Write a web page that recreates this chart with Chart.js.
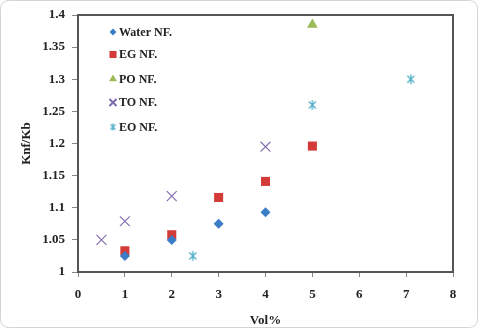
<!DOCTYPE html>
<html>
<head>
<meta charset="utf-8">
<script src="https://cdn.jsdelivr.net/npm/chart.js@4.4.1/dist/chart.umd.min.js"></script>
<style>
  html, body { margin: 0; padding: 0; background: #ffffff; }
  #wrap { width: 478px; height: 328px; position: relative; }
</style>
</head>
<body>
<div id="wrap"><canvas id="c" width="478" height="328"></canvas></div>
<script>
// ---- data ----
const seriesNames = ["Water NF.", "EG NF.", "PO NF.", "TO NF.", "EO NF."];
const waterX = [1, 2, 3, 4];
const waterY = [1.025, 1.05, 1.075, 1.093];
const egX = [1, 2, 3, 4, 5];
const egY = [1.033, 1.058, 1.116, 1.141, 1.196];
const poX = [5];
const poY = [1.385];
const toX = [0.5, 1, 2, 4];
const toY = [1.05, 1.079, 1.118, 1.195];
const eoX = [2.45, 5, 7.1];
const eoY = [1.025, 1.26, 1.3];
const xTicks = [0, 1, 2, 3, 4, 5, 6, 7, 8];
const yTicks = [1, 1.05, 1.1, 1.15, 1.2, 1.25, 1.3, 1.35, 1.4];

function pts(xs, ys) { return xs.map((x, i) => ({ x: x, y: ys[i] })); }

// custom Excel-like star marker (X plus vertical bar)
function makeStar(size, color) {
  const c = document.createElement('canvas');
  c.width = size; c.height = size;
  const g = c.getContext('2d');
  g.strokeStyle = color; g.lineWidth = 1.2;
  const m = size / 2, r = size / 2 - 1;
  const d = r * Math.SQRT1_2;
  g.beginPath();
  g.moveTo(m - d, m - d); g.lineTo(m + d, m + d);
  g.moveTo(m + d, m - d); g.lineTo(m - d, m + d);
  g.moveTo(m, m - r); g.lineTo(m, m + r);
  g.stroke();
  return c;
}
const starBig = makeStar(12, '#4BACC6');
const starSmall = makeStar(9, '#4BACC6');

const colors = ['#3A7DC6', '#D23B37', '#9BBB59', '#7E6AAE', '#4BACC6'];
const styles = ['rectRot', 'rect', 'triangle', 'crossRot', starBig];
const radii = [5, 6.4, 6.2, 7, 6];
const legendStyles = ['rectRot', 'rect', 'triangle', 'crossRot', starSmall];
const legendRadii = [3.4, 5, 4.6, 5, 4.5];

const allData = [pts(waterX, waterY), pts(egX, egY), pts(poX, poY), pts(toX, toY), pts(eoX, eoY)];

const datasets = allData.map((d, i) => ({
  label: seriesNames[i],
  data: d,
  pointStyle: styles[i],
  pointRadius: radii[i],
  pointHoverRadius: radii[i],
  backgroundColor: colors[i],
  borderColor: colors[i],
  borderWidth: (i === 3) ? 1.1 : 0,
  showLine: false
}));

const serif = "'Liberation Serif', 'Times New Roman', serif";

const framePlugin = {
  id: 'frame',
  beforeDraw(chart) {
    const ctx = chart.ctx;
    ctx.save();
    ctx.fillStyle = '#ffffff';
    ctx.fillRect(0, 0, chart.width, chart.height);
    // light outer border
    ctx.strokeStyle = '#d4d4d4';
    ctx.lineWidth = 1;
    ctx.beginPath();
    if (ctx.roundRect) ctx.roundRect(0.5, 0.5, chart.width - 1, chart.height - 1, 8);
    else ctx.rect(0.5, 0.5, chart.width - 1, chart.height - 1);
    ctx.stroke();
    ctx.restore();
  },
  afterDraw(chart) {
    const a = chart.chartArea, ctx = chart.ctx;
    ctx.save();
    ctx.strokeStyle = '#555555';
    ctx.lineWidth = 2;
    ctx.strokeRect(a.left, a.top, a.right - a.left, a.bottom - a.top);
    // legend inside plot
    ctx.font = 'bold 12px ' + serif;
    ctx.textBaseline = 'middle';
    ctx.textAlign = 'left';
    const rowsY = [32, 54.5, 79, 102.5, 127];
    const mx = 113, tx = 119;
    for (let i = 0; i < seriesNames.length; i++) {
      ctx.fillStyle = colors[i];
      ctx.strokeStyle = colors[i];
      Chart.helpers.drawPoint(ctx, {
        pointStyle: legendStyles[i],
        radius: legendRadii[i],
        rotation: 0,
        borderWidth: (i === 3) ? 1 : 0
      }, mx, rowsY[i]);
      ctx.fillStyle = '#222222';
      ctx.fillText(seriesNames[i], tx, rowsY[i] + 0.5);
    }
    ctx.restore();
  }
};

new Chart(document.getElementById('c'), {
  type: 'scatter',
  data: { datasets: datasets },
  options: {
    responsive: false,
    animation: false,
    devicePixelRatio: 1,
    layout: { padding: { top: 15, right: 25, left: 0, bottom: 0 } },
    plugins: { legend: { display: false }, tooltip: { enabled: false } },
    scales: {
      x: {
        type: 'linear', min: 0, max: 8,
        afterBuildTicks(s) { s.ticks = xTicks.map(v => ({ value: v })); },
        afterFit(s) { s.height = 56; },
        ticks: {
          color: '#222', padding: 10,
          font: { family: serif, size: 13, weight: 'bold' },
          callback: v => String(v)
        },
        grid: { display: true, drawOnChartArea: false, drawTicks: true, tickLength: 5, color: '#888888' },
        border: { display: true, color: '#555555', width: 2 },
        title: { display: true, text: 'Vol%', color: '#222', padding: { top: 0, bottom: 0 },
                 font: { family: serif, size: 13, weight: 'bold' } }
      },
      y: {
        type: 'linear', min: 1, max: 1.4,
        afterBuildTicks(s) { s.ticks = yTicks.map(v => ({ value: v })); },
        afterFit(s) { s.width = 78; },
        ticks: {
          color: '#222', padding: 7,
          font: { family: serif, size: 13, weight: 'bold' },
          callback: v => String(+Number(v).toFixed(2))
        },
        grid: { display: true, drawOnChartArea: false, drawTicks: true, tickLength: 6, color: '#888888' },
        border: { display: true, color: '#555555', width: 2 },
        title: { display: true, text: 'Knf/Kb', color: '#222', padding: { top: 19, bottom: 0 },
                 font: { family: serif, size: 13, weight: 'bold' } }
      }
    }
  },
  plugins: [framePlugin]
});
</script>
</body>
</html>
